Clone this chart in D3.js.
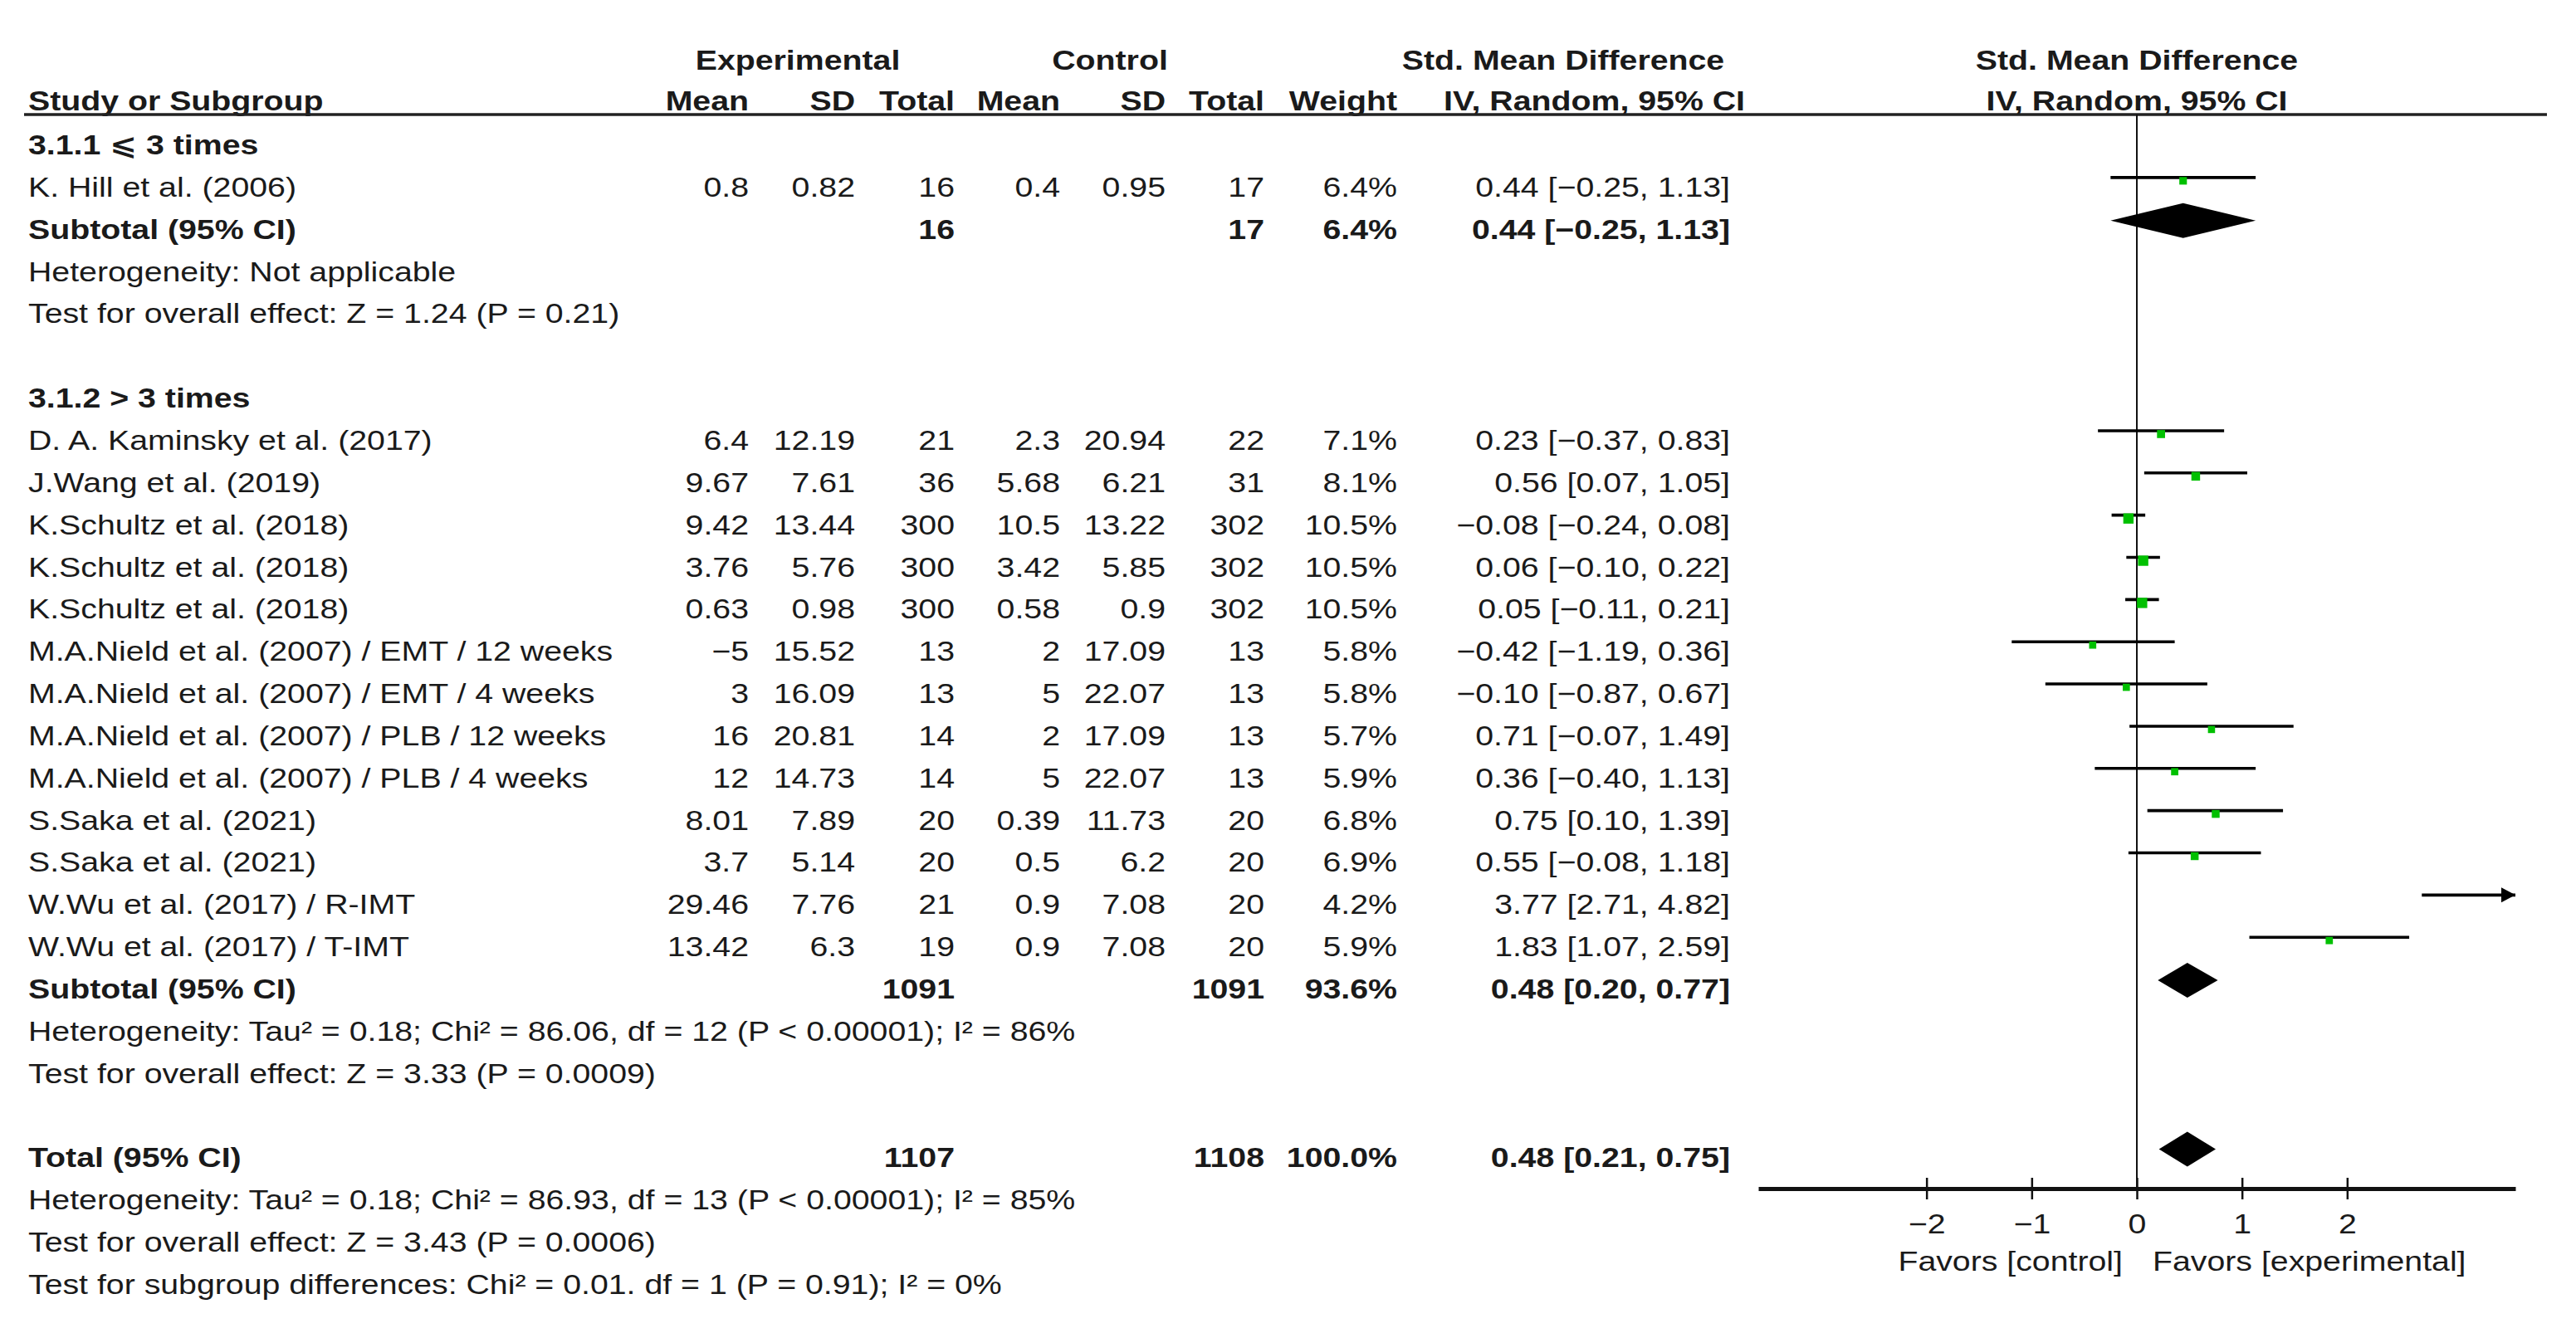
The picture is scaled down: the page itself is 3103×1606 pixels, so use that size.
<!DOCTYPE html>
<html><head><meta charset="utf-8">
<script src="https://cdn.jsdelivr.net/npm/d3@7"></script>
<style>body{margin:0;background:#fff;} svg{display:block;}</style>
</head><body>
<svg id="chart" width="3103" height="1606"></svg>
<script>
// ---------------- DATA ----------------
const studyNames = [
  "K. Hill et al. (2006)",
  "D. A. Kaminsky et al. (2017)",
  "J.Wang et al. (2019)",
  "K.Schultz et al. (2018)",
  "K.Schultz et al. (2018)",
  "K.Schultz et al. (2018)",
  "M.A.Nield et al. (2007) / EMT / 12 weeks",
  "M.A.Nield et al. (2007) / EMT / 4 weeks",
  "M.A.Nield et al. (2007) / PLB / 12 weeks",
  "M.A.Nield et al. (2007) / PLB / 4 weeks",
  "S.Saka et al. (2021)",
  "S.Saka et al. (2021)",
  "W.Wu et al. (2017) / R-IMT",
  "W.Wu et al. (2017) / T-IMT"
];
const studyGroup = [0,1,1,1,1,1,1,1,1,1,1,1,1,1];
const meanE  = [0.8, 6.4, 9.67, 9.42, 3.76, 0.63, -5, 3, 16, 12, 8.01, 3.7, 29.46, 13.42];
const sdE    = [0.82, 12.19, 7.61, 13.44, 5.76, 0.98, 15.52, 16.09, 20.81, 14.73, 7.89, 5.14, 7.76, 6.3];
const totalE = [16, 21, 36, 300, 300, 300, 13, 13, 14, 14, 20, 20, 21, 19];
const meanC  = [0.4, 2.3, 5.68, 10.5, 3.42, 0.58, 2, 5, 2, 5, 0.39, 0.5, 0.9, 0.9];
const sdC    = [0.95, 20.94, 6.21, 13.22, 5.85, 0.9, 17.09, 22.07, 17.09, 22.07, 11.73, 6.2, 7.08, 7.08];
const totalC = [17, 22, 31, 302, 302, 302, 13, 13, 13, 13, 20, 20, 20, 20];
const weight = [6.4, 7.1, 8.1, 10.5, 10.5, 10.5, 5.8, 5.8, 5.7, 5.9, 6.8, 6.9, 4.2, 5.9];
const smd    = [0.44, 0.23, 0.56, -0.08, 0.06, 0.05, -0.42, -0.10, 0.71, 0.36, 0.75, 0.55, 3.77, 1.83];
const ciLow  = [-0.25, -0.37, 0.07, -0.24, -0.10, -0.11, -1.19, -0.87, -0.07, -0.40, 0.10, -0.08, 2.71, 1.07];
const ciHigh = [1.13, 0.83, 1.05, 0.08, 0.22, 0.21, 0.36, 0.67, 1.49, 1.13, 1.39, 1.18, 4.82, 2.59];

const groupLabels   = ["3.1.1 \u2A7D 3 times", "3.1.2 > 3 times"];
const subTotalE     = [16, 1091];
const subTotalC     = [17, 1091];
const subWeight     = [6.4, 93.6];
const subSmd        = [0.44, 0.48];
const subLow        = [-0.25, 0.20];
const subHigh       = [1.13, 0.77];
const subHetText    = ["Heterogeneity: Not applicable",
                       "Heterogeneity: Tau\u00B2 = 0.18; Chi\u00B2 = 86.06, df = 12 (P < 0.00001); I\u00B2 = 86%"];
const subTestText   = ["Test for overall effect: Z = 1.24 (P = 0.21)",
                       "Test for overall effect: Z = 3.33 (P = 0.0009)"];

const overallE = 1107, overallC = 1108, overallWeight = 100.0;
const overallSmd = 0.48, overallLow = 0.21, overallHigh = 0.75;
const overallTexts = [
  "Heterogeneity: Tau\u00B2 = 0.18; Chi\u00B2 = 86.93, df = 13 (P < 0.00001); I\u00B2 = 85%",
  "Test for overall effect: Z = 3.43 (P = 0.0006)",
  "Test for subgroup differences: Chi\u00B2 = 0.01. df = 1 (P = 0.91); I\u00B2 = 0%"
];

const tickValues  = [-2, -1, 0, 1, 2];
const favorLabels = ["Favors [control]", "Favors [experimental]"];
const groupHeaders = ["Experimental", "Control", "Std. Mean Difference", "Std. Mean Difference"];
const colHeaders = ["Study or Subgroup", "Mean", "SD", "Total", "Mean", "SD", "Total", "Weight", "IV, Random, 95% CI", "IV, Random, 95% CI"];

// ---------------- LAYOUT ----------------
const FS = 33, SX = 1.19;
const svg = d3.select("#chart")
  .attr("font-family", "'Liberation Sans', Arial, 'DejaVu Sans', sans-serif")
  .attr("font-size", FS)
  .attr("fill", "#1a1a1a");

const xLeft = 34;
const colRight = {meanE: 902, sdE: 1030, totE: 1150, meanC: 1277, sdC: 1404, totC: 1523, weight: 1683, ci: 2084};

const x = d3.scaleLinear().domain([-3.6, 3.6]).range([2118, 3030]);
const yRow = d3.scaleLinear().domain([0, 27]).range([174, 1547]);
const base = i => yRow(i) + 12;
const mark = i => yRow(i) - 11;

function txt(xx, yy, s, anchor = "start", bold = false) {
  return svg.append("text")
    .attr("transform", `translate(${xx},${yy}) scale(${SX},1)`)
    .attr("text-anchor", anchor)
    .attr("font-weight", bold ? "bold" : "normal")
    .text(s);
}
const num = v => String(v).replace("-", "\u2212");
const f2 = d3.format(".2f");
const est = v => (v < 0 ? "\u2212" : "") + f2(Math.abs(v));
const ciTxt = (e, l, h) => `${est(e)} [${f2(l)}, ${f2(h)}]`;
const wTxt = w => d3.format(".1f")(w) + "%";

// headers
txt(961, 84, groupHeaders[0], "middle", true);
txt(1337, 84, groupHeaders[1], "middle", true);
txt(1883, 84, groupHeaders[2], "middle", true);
txt(x(0), 84, groupHeaders[3], "middle", true);
txt(xLeft, 133, colHeaders[0], "start", true);
[["meanE",1],["sdE",2],["totE",3],["meanC",4],["sdC",5],["totC",6],["weight",7]].forEach(([k,i]) =>
  txt(colRight[k], 133, colHeaders[i], "end", true));
txt(2102, 133, colHeaders[8], "end", true);
txt(x(0), 133, colHeaders[9], "middle", true);

svg.append("line").attr("x1", 29).attr("x2", 3068).attr("y1", 138).attr("y2", 138)
  .attr("stroke", "#222").attr("stroke-width", 3.5);

// zero line
svg.append("line").attr("x1", x(0)).attr("x2", x(0)).attr("y1", 138).attr("y2", 1432)
  .attr("stroke", "#111").attr("stroke-width", 2);

// rows
const groupStart = [0, 6];
const studyRowIdx = [];
let counters = [0, 0];
studyNames.forEach((n, i) => {
  const g = studyGroup[i];
  counters[g]++;
  studyRowIdx.push(groupStart[g] + counters[g]);
});

function drawDiamond(r, e, l, h) {
  const yc = yRow(r) - 10, hh = 21;
  svg.append("path")
    .attr("d", `M${x(l)},${yc} L${x(e)},${yc - hh} L${x(h)},${yc} L${x(e)},${yc + hh} Z`)
    .attr("fill", "#000");
}

groupLabels.forEach((lab, g) => {
  const r0 = groupStart[g];
  txt(xLeft, base(r0), lab, "start", true);
  const rs = r0 + counters[g] + 1;
  txt(xLeft, base(rs), "Subtotal (95% CI)", "start", true);
  txt(colRight.totE, base(rs), subTotalE[g], "end", true);
  txt(colRight.totC, base(rs), subTotalC[g], "end", true);
  txt(colRight.weight, base(rs), wTxt(subWeight[g]), "end", true);
  txt(colRight.ci, base(rs), ciTxt(subSmd[g], subLow[g], subHigh[g]), "end", true);
  drawDiamond(rs, subSmd[g], subLow[g], subHigh[g]);
  txt(xLeft, base(rs + 1), subHetText[g]);
  txt(xLeft, base(rs + 2), subTestText[g]);
});

const [dMin, dMax] = x.domain();
studyNames.forEach((n, i) => {
  const r = studyRowIdx[i];
  const b = base(r);
  txt(xLeft, b, n);
  txt(colRight.meanE, b, num(meanE[i]), "end");
  txt(colRight.sdE, b, num(sdE[i]), "end");
  txt(colRight.totE, b, totalE[i], "end");
  txt(colRight.meanC, b, num(meanC[i]), "end");
  txt(colRight.sdC, b, num(sdC[i]), "end");
  txt(colRight.totC, b, totalC[i], "end");
  txt(colRight.weight, b, wTxt(weight[i]), "end");
  txt(colRight.ci, b, ciTxt(smd[i], ciLow[i], ciHigh[i]), "end");

  const ym = mark(r);
  const lo = Math.max(ciLow[i], dMin), hi = Math.min(ciHigh[i], dMax);
  svg.append("line").attr("x1", x(lo)).attr("x2", x(hi)).attr("y1", ym).attr("y2", ym)
    .attr("stroke", "#000").attr("stroke-width", 3.6);
  if (ciHigh[i] > dMax) {
    const xe = x(dMax);
    svg.append("path").attr("d", `M${xe},${ym} L${xe - 17},${ym - 9} L${xe - 17},${ym + 9} Z`).attr("fill", "#000");
  }
  if (ciLow[i] < dMin) {
    const xs = x(dMin);
    svg.append("path").attr("d", `M${xs},${ym} L${xs + 17},${ym - 9} L${xs + 17},${ym + 9} Z`).attr("fill", "#000");
  }
  if (smd[i] >= dMin && smd[i] <= dMax) {
    const s = 4 + 0.8 * weight[i];
    svg.append("rect").attr("x", x(smd[i]) - s / 2).attr("y", ym + 4 - s / 2)
      .attr("width", s).attr("height", s).attr("fill", "#00c000");
  }
});

// overall
txt(xLeft, base(24), "Total (95% CI)", "start", true);
txt(colRight.totE, base(24), overallE, "end", true);
txt(colRight.totC, base(24), overallC, "end", true);
txt(colRight.weight, base(24), wTxt(overallWeight), "end", true);
txt(colRight.ci, base(24), ciTxt(overallSmd, overallLow, overallHigh), "end", true);
drawDiamond(24, overallSmd, overallLow, overallHigh);
overallTexts.forEach((t, k) => txt(xLeft, base(25 + k), t));

// axis
const axisY = 1432;
const ax = svg.append("g").attr("transform", `translate(0,${axisY})`)
  .call(d3.axisBottom(x).tickValues(tickValues).tickSizeOuter(0)
        .tickFormat(d => (d < 0 ? "\u2212" : "") + Math.abs(d)));
ax.select(".domain").attr("stroke", "#111").attr("stroke-width", 5);
ax.selectAll(".tick line").attr("y1", -13).attr("y2", 13).attr("stroke", "#111").attr("stroke-width", 2.5);
ax.selectAll(".tick text")
  .attr("y", null).attr("dy", null)
  .attr("transform", `translate(0,54) scale(${SX},1)`)
  .attr("font-size", FS).attr("font-family", "'Liberation Sans', Arial, sans-serif")
  .attr("fill", "#1a1a1a");
ax.attr("font-size", FS);

txt(x(0) - 17, 1531, favorLabels[0], "end");
txt(x(0) + 19, 1531, favorLabels[1], "start");
</script>
</body></html>
